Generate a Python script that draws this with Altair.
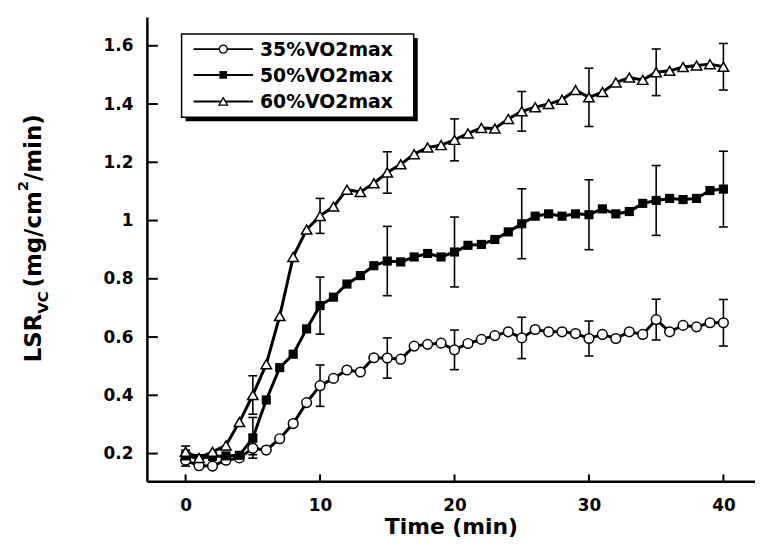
import altair as alt
import pandas as pd

minutes = list(range(41))
series_labels = ["35%VO2max", "50%VO2max", "60%VO2max"]

s35 = [0.177, 0.158, 0.157, 0.177, 0.185, 0.218, 0.212, 0.251, 0.303, 0.375,
       0.433, 0.458, 0.487, 0.480, 0.529, 0.528, 0.524, 0.569, 0.575, 0.579,
       0.556, 0.578, 0.592, 0.605, 0.618, 0.597, 0.626, 0.618, 0.618, 0.612,
       0.595, 0.609, 0.595, 0.618, 0.609, 0.660, 0.618, 0.640, 0.635, 0.649,
       0.649]
s50 = [0.192, 0.183, 0.190, 0.192, 0.194, 0.254, 0.384, 0.495, 0.541, 0.628,
       0.708, 0.737, 0.782, 0.811, 0.845, 0.861, 0.858, 0.875, 0.887, 0.875,
       0.892, 0.915, 0.918, 0.935, 0.961, 0.989, 1.015, 1.023, 1.015, 1.023,
       1.020, 1.040, 1.023, 1.031, 1.059, 1.069, 1.076, 1.072, 1.076, 1.103,
       1.108]
s60 = [0.206, 0.185, 0.206, 0.228, 0.308, 0.401, 0.507, 0.672, 0.875, 0.969,
       1.016, 1.048, 1.106, 1.098, 1.128, 1.165, 1.193, 1.228, 1.251, 1.259,
       1.277, 1.299, 1.318, 1.316, 1.349, 1.375, 1.389, 1.400, 1.415, 1.448,
       1.423, 1.441, 1.474, 1.491, 1.483, 1.509, 1.514, 1.527, 1.532, 1.537,
       1.528]

err_minutes = [0, 5, 10, 15, 20, 25, 30, 35, 40]
e35 = [0.02, 0.022, 0.071, 0.069, 0.068, 0.071, 0.06, 0.07, 0.08]
e50 = [0.02, 0.07, 0.098, 0.119, 0.12, 0.12, 0.12, 0.12, 0.13]
e60 = [0.02, 0.066, 0.06, 0.071, 0.072, 0.068, 0.10, 0.08, 0.08]

y_ticks = [0.2, 0.4, 0.6, 0.8, 1.0, 1.2, 1.4, 1.6]
x_ticks = [0, 10, 20, 30, 40]

rows = []
for lab, vals in zip(series_labels, [s35, s50, s60]):
    for t, v in zip(minutes, vals):
        rows.append({"series": lab, "t": t, "v": v})
df = pd.DataFrame(rows)

erows = []
for lab, vals, errs in zip(series_labels, [s35, s50, s60], [e35, e50, e60]):
    for t, e in zip(err_minutes, errs):
        erows.append({"series": lab, "t": t, "lo": vals[t] - e, "hi": vals[t] + e})
edf = pd.DataFrame(erows)

W, H = 613, 468
FONT = "DejaVu Sans"
xs = alt.Scale(domain=[-2.88, 42.35], nice=False, zero=False)
ys = alt.Scale(domain=[0.1046, 1.6986], nice=False, zero=False)

x_axis = alt.Axis(values=x_ticks, ticks=False, grid=False, domainColor="black",
                  domainWidth=2.5, labelFont=FONT, labelFontWeight="bold",
                  labelFontSize=17, labelColor="black", labelPadding=16,
                  labelFlush=False, title="Time (min)", titleFont=FONT,
                  titleFontSize=22, titleFontWeight="bold", titleColor="black",
                  titlePadding=4)
y_axis = alt.Axis(values=y_ticks, format="~g", ticks=False, grid=False,
                  domainColor="black", domainWidth=2.5, labelFont=FONT,
                  labelFontWeight="bold", labelFontSize=17, labelColor="black",
                  labelPadding=14, labelFlush=False, title="")

def X(f):
    return alt.X(f + ":Q", scale=xs, axis=x_axis)

def Y(f):
    return alt.Y(f + ":Q", scale=ys, axis=y_axis)

lines = alt.Chart(df).mark_line(color="black", strokeWidth=3).encode(
    x=X("t"), y=Y("v"), detail="series:N")

erule = alt.Chart(edf).mark_rule(color="black", strokeWidth=1.6).encode(
    x=X("t"), y=Y("lo"), y2="hi:Q")
ecap_lo = alt.Chart(edf).mark_tick(orient="horizontal", size=9, thickness=1.6,
                                   color="black", opacity=1).encode(x=X("t"), y=Y("lo"))
ecap_hi = alt.Chart(edf).mark_tick(orient="horizontal", size=9, thickness=1.6,
                                   color="black", opacity=1).encode(x=X("t"), y=Y("hi"))

pts35 = alt.Chart(df[df.series == series_labels[0]]).mark_point(
    shape="circle", filled=True, fill="white", stroke="black", strokeWidth=1.5,
    size=95, opacity=1).encode(x=X("t"), y=Y("v"))
pts50 = alt.Chart(df[df.series == series_labels[1]]).mark_point(
    shape="square", filled=True, color="black", size=85, opacity=1).encode(
    x=X("t"), y=Y("v"))
pts60 = alt.Chart(df[df.series == series_labels[2]]).mark_point(
    shape="triangle-up", filled=True, fill="white", stroke="black",
    strokeWidth=1.5, size=110, opacity=1).encode(x=X("t"), y=Y("v"))

ytk = alt.Chart(pd.DataFrame({"v": y_ticks})).mark_rule(
    color="black", strokeWidth=2).encode(
    x=alt.value(0), x2=alt.value(11), y=Y("v"))
xtk = alt.Chart(pd.DataFrame({"t": x_ticks})).mark_rule(
    color="black", strokeWidth=2).encode(
    x=X("t"), y=alt.value(H), y2=alt.value(H - 7))

one = pd.DataFrame({"a": [0]})
shadow = alt.Chart(one).mark_rect(color="black", opacity=1).encode(
    x=alt.value(39), x2=alt.value(273), y=alt.value(21), y2=alt.value(105))
box = alt.Chart(one).mark_rect(fill="white", stroke="black", strokeWidth=1.5,
                               opacity=1).encode(
    x=alt.value(35), x2=alt.value(269), y=alt.value(17), y2=alt.value(101))

legend_layers = []
row_y = [32.3, 58.3, 85.0]
marker_specs = [
    dict(shape="circle", filled=True, fill="white", stroke="black", strokeWidth=1.3, size=65),
    dict(shape="square", filled=True, color="black", size=60),
    dict(shape="triangle-up", filled=True, fill="white", stroke="black", strokeWidth=1.3, size=75),
]
for lab, yy, ms in zip(series_labels, row_y, marker_specs):
    ld = pd.DataFrame({"label": [lab]})
    legend_layers.append(alt.Chart(ld).mark_rule(color="black", strokeWidth=2).encode(
        x=alt.value(47), x2=alt.value(107), y=alt.value(yy)))
    legend_layers.append(alt.Chart(ld).mark_point(opacity=1, **ms).encode(
        x=alt.value(77), y=alt.value(yy)))
    legend_layers.append(alt.Chart(ld).mark_text(
        align="left", baseline="middle", font=FONT, fontWeight="bold",
        fontSize=19, color="black").encode(
        x=alt.value(114), y=alt.value(yy + 1), text="label:N"))

ytitle_parts = [
    ("LSR", 23, -106.6, 348.0),
    ("VC", 15, -99.7, 299.1),
    ("(mg/cm", 23, -106.6, 272.5),
    ("2", 15, -119.7, 175.6),
    ("/min)", 23, -106.6, 165.2),
]
ytitle_layers = []
for txt, fs, xx, yy in ytitle_parts:
    ytitle_layers.append(alt.Chart(one).mark_text(
        angle=270, align="left", baseline="alphabetic", font=FONT,
        fontWeight="bold", fontSize=fs, color="black").encode(
        x=alt.value(xx), y=alt.value(yy), text=alt.value(txt)))

chart = alt.layer(
    lines, erule, ecap_lo, ecap_hi, pts35, pts50, pts60, ytk, xtk,
    shadow, box, *legend_layers, *ytitle_layers
).properties(
    width=W, height=H,
    autosize=alt.AutoSizeParams(type="none"),
    padding={"left": 140, "top": 7, "right": 0, "bottom": 60},
    background="white",
).configure_view(stroke=None)

chart.save("out.html", embed_options={"renderer": "svg", "actions": False})
